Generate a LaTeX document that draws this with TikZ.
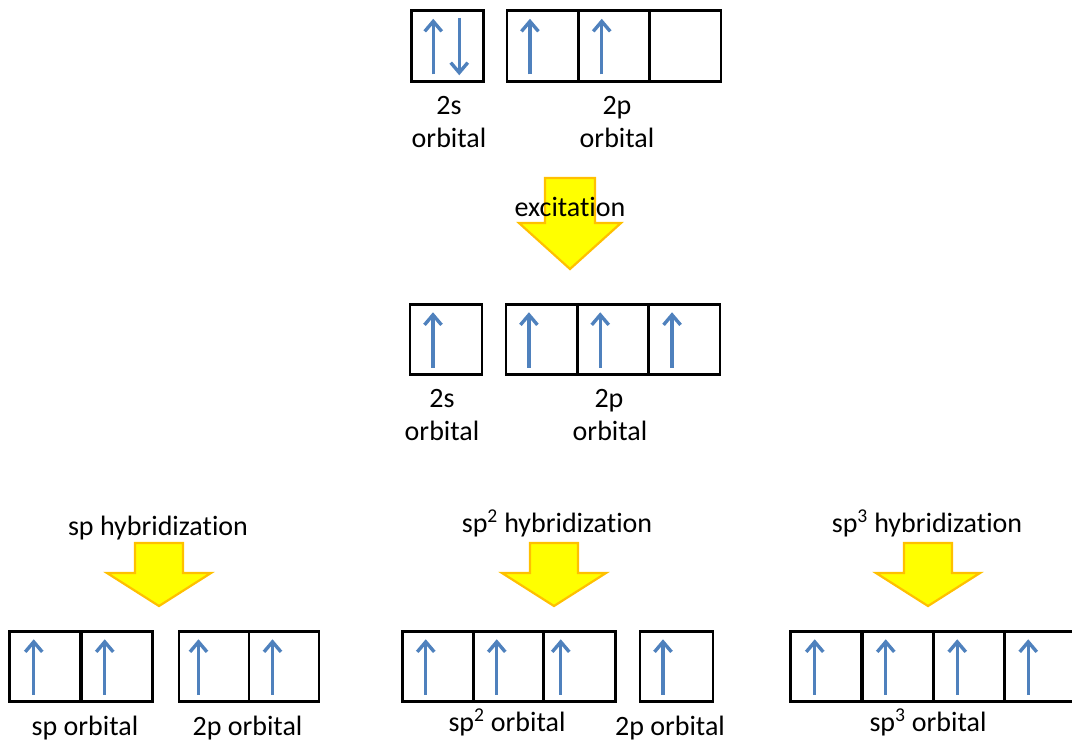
\documentclass[tikz,border=0pt]{standalone}
\usepackage{fontspec}
\setmainfont[Ligatures={NoCommon,NoRequired,NoContextual},Contextuals=NoAlternate]{Carlito}
\usetikzlibrary{arrows.meta,calc}
\definecolor{spinblue}{HTML}{4F81BD}
\definecolor{arrowfill}{HTML}{FFFF00}
\definecolor{arrowedge}{HTML}{FFC000}
\tikzset{
  cell/.style={draw=black, line width=2.8pt, minimum width=71.5pt, minimum height=70.5pt,
               inner sep=0pt, outer sep=0pt},
  spin/.style={draw=spinblue, line width=3.4pt, -{Straight Barb[length=10pt,width=17pt]}},
  lbl/.style={font=\fontsize{28}{34}\selectfont, anchor=base, inner sep=0pt},
  bigarrow/.style={fill=arrowfill, draw=arrowedge, line width=2.2pt, line join=miter},
}
% electron spins inside an orbital cell: #1 cell name, #2 offset from its left side
\newcommand\upspin[2]{\draw[spin] ($(#1.south west)+(#2,-7)$) -- ($(#1.north west)+(#2,8)$);}
\newcommand\downspin[2]{\draw[spin] ($(#1.north west)+(#2,7)$) -- ($(#1.south west)+(#2,-6)$);}
% wide down arrow: #1 name, #2 centre x, #3 top, #4 shoulder, #5 tip, #6 half shaft, #7 half head
\newcommand\downblock[7]{%
  \draw[bigarrow] (#2-#6,#3) -- (#2+#6,#3) -- (#2+#6,#4) -- (#2+#7,#4) -- (#2,#5)
     coordinate (#1) -- (#2-#7,#4) -- (#2-#6,#4) -- cycle;}
% "t" and "i" kept as separate letters
\newcommand\hybword{hybridizat\kern0pt ion}

\begin{document}
\begin{tikzpicture}[x=1pt,y=-1pt]
\clip (0,0) rectangle (1072,740);

% ground state
\node[cell, minimum width=72.5pt] (g2s) at (447.5,46) {};
\node[cell] (g2p1) at (542.7,46) {};
\node[cell] (g2p2) at (614,46) {};
\node[cell] (g2p3) at (685.3,46) {};
\upspin{g2s}{22}
\downspin{g2s}{48}
\upspin{g2p1}{23}
\upspin{g2p2}{23.5}
\node[lbl] (g2sa) at (449,114) {2s};
\node[lbl] (g2sb) at (449,147) {orbital};
\node[lbl] (g2pa) at (617,114) {2p};
\node[lbl] (g2pb) at (617,147) {orbital};

% excitation
\downblock{exc}{570}{178}{223}{269}{25}{51}
\node[lbl] (exct) at (570,216) {excitat\kern0pt ion};

% excited state
\node[cell, minimum width=72pt] (e2s) at (446,339.5) {};
\node[cell] (e2p1) at (541.7,339.5) {};
\node[cell] (e2p2) at (613,339.5) {};
\node[cell] (e2p3) at (684.3,339.5) {};
\upspin{e2s}{23}
\upspin{e2p1}{23}
\upspin{e2p2}{23}
\upspin{e2p3}{23.5}
\node[lbl] (e2sa) at (442,407) {2s};
\node[lbl] (e2sb) at (442,440) {orbital};
\node[lbl] (e2pa) at (609,407) {2p};
\node[lbl] (e2pb) at (610,440) {orbital};

% sp hybridization
\node[lbl] (sph) at (158,535) {sp \hybword};
\downblock{spa}{159}{543}{573}{606}{24}{52}
\node[cell] (sp1) at (45,666.5) {};
\node[cell] (sp2) at (117,666.5) {};
\node[cell, minimum width=70pt] (sq1) at (214,666.5) {};
\node[cell, minimum width=70pt] (sq2) at (284,666.5) {};
\upspin{sp1}{24.5}
\upspin{sp2}{23.5}
\upspin{sq1}{19.5}
\upspin{sq2}{23.5}
\node[lbl] (spl) at (85,735) {sp orbital};
\node[lbl] (sql) at (247.5,735) {2p orbital};

% sp2 hybridization
\node[lbl] (sp2h) at (557,532) {sp\textsuperscript{2} \hybword};
\downblock{spb}{554}{543}{573}{606}{24}{52}
\node[cell, minimum width=70.5pt] (ha1) at (438,666.5) {};
\node[cell, minimum width=70.5pt] (ha2) at (508.5,666.5) {};
\node[cell, minimum width=72.5pt] (ha3) at (579.5,666.5) {};
\node[cell, minimum width=73pt] (hp) at (676.5,666.5) {};
\upspin{ha1}{23}
\upspin{ha2}{23.5}
\upspin{ha3}{17.5}
\upspin{hp}{23}
\node[lbl] (hal) at (507,731) {sp\textsuperscript{2} orbital};
\node[lbl] (hpl) at (670,735) {2p orbital};

% sp3 hybridization
\node[lbl] (sp3h) at (927,532) {sp\textsuperscript{3} \hybword};
\downblock{spc}{928}{543}{573}{606}{24}{52}
\node[cell] (hb1) at (826.5,666.5) {};
\node[cell] (hb2) at (897.5,666.5) {};
\node[cell] (hb3) at (969,666.5) {};
\node[cell] (hb4) at (1040.5,666.5) {};
\upspin{hb1}{24}
\upspin{hb2}{24}
\upspin{hb3}{24}
\upspin{hb4}{23.5}
\node[lbl] (hbl) at (928,731) {sp\textsuperscript{3} orbital};
\end{tikzpicture}
\end{document}
